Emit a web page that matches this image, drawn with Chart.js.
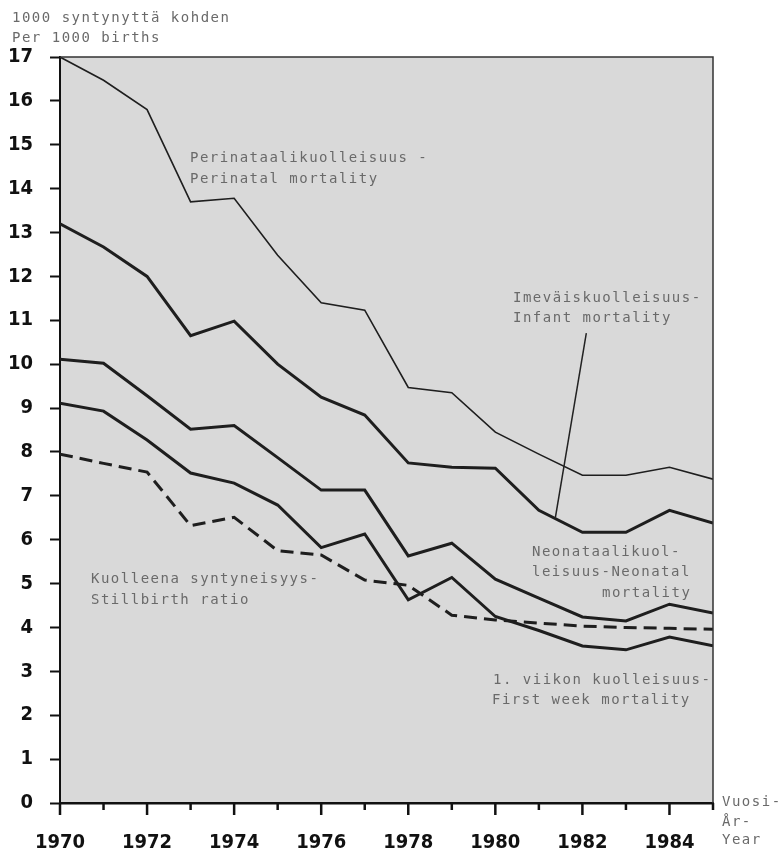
<!DOCTYPE html>
<html><head><meta charset="utf-8">
<script src="https://cdn.jsdelivr.net/npm/chart.js@4"></script>
<style>html,body{margin:0;padding:0;background:#fff;} #wrap{width:783px;height:850px;position:relative}</style>
</head><body><div id="wrap"><canvas id="c" width="783" height="850" style="width:783px;height:850px"></canvas></div>
<script>
const years = [1970,1971,1972,1973,1974,1975,1976,1977,1978,1979,1980,1981,1982,1983,1984,1985];
const perinatal = [17.0,16.47,15.8,13.7,13.78,12.48,11.4,11.23,9.47,9.35,8.45,7.95,7.47,7.47,7.65,7.38];
const infant = [13.2,12.67,12.0,10.65,10.98,10.0,9.25,8.84,7.75,7.65,7.63,6.67,6.17,6.17,6.67,6.38];
const neonatal = [10.11,10.02,9.28,8.52,8.6,7.87,7.13,7.13,5.63,5.92,5.1,4.67,4.24,4.15,4.53,4.33];
const firstWeek = [9.11,8.93,8.27,7.52,7.29,6.79,5.82,6.13,4.63,5.14,4.25,3.93,3.58,3.49,3.78,3.58];
const stillbirth = [7.95,7.74,7.54,6.32,6.51,5.75,5.65,5.08,4.96,4.28,4.17,4.1,4.03,4.0,3.98,3.96];
const xTickLabels = [1970,1972,1974,1976,1978,1980,1982,1984];
const yAxisTitle = ['1000 syntynyttä kohden','Per 1000 births'];
const xAxisTitle = ['Vuosi-','År-','Year'];

const pts = arr => arr.map((v,i)=>({x:years[i], y:v}));
const tickFont = {family:"'Liberation Sans Narrow','DejaVu Sans Condensed','Arial Narrow',sans-serif", size:20, weight:'bold'};
const monoFont = "14px 'DejaVu Sans Mono', monospace";

const bgPlugin = {
  id:'bg',
  beforeDraw(chart){
    const {ctx, chartArea:a} = chart;
    ctx.save();
    ctx.fillStyle = '#d9d9d9';
    ctx.fillRect(a.left, a.top, a.right-a.left, a.bottom-a.top);
    ctx.restore();
  }
};

function txt(ctx, s, x, y){ ctx.fillText(s, x, y); }

const annoPlugin = {
  id:'anno',
  afterDraw(chart){
    const {ctx, chartArea:a, scales:{x, y}} = chart;
    ctx.save();
    ctx.strokeStyle = '#333'; ctx.lineWidth = 1.5;
    ctx.beginPath(); ctx.moveTo(a.left, a.top); ctx.lineTo(a.right, a.top); ctx.lineTo(a.right, a.bottom); ctx.stroke();
    ctx.strokeStyle = '#111'; ctx.lineWidth = 2.5;
    years.forEach(yr=>{
      const px = x.getPixelForValue(yr);
      const len = (yr % 2 === 0) ? 12 : 7;
      ctx.beginPath(); ctx.moveTo(px, a.bottom); ctx.lineTo(px, a.bottom+len); ctx.stroke();
    });
    ctx.strokeStyle = '#222'; ctx.lineWidth = 1.5;
    ctx.beginPath();
    ctx.moveTo(x.getPixelForValue(1982.09), y.getPixelForValue(10.71));
    ctx.lineTo(x.getPixelForValue(1981.38), y.getPixelForValue(6.51));
    ctx.stroke();
    ctx.font = monoFont;
    ctx.letterSpacing = '1.5px';
    ctx.fillStyle = '#6a6a6a';
    ctx.textBaseline = 'middle';
    ctx.textAlign = 'left';
    txt(ctx, yAxisTitle[0], 12, 18);
    txt(ctx, yAxisTitle[1], 12, 38);
    txt(ctx, 'Perinataalikuolleisuus -', 190, 158);
    txt(ctx, 'Perinatal mortality', 190, 179);
    txt(ctx, 'Imeväiskuolleisuus-', 513, 298);
    txt(ctx, 'Infant mortality', 513, 318);
    txt(ctx, 'Neonataalikuol-', 532, 552);
    txt(ctx, 'leisuus-Neonatal', 532, 572);
    txt(ctx, 'mortality', 602, 593);
    txt(ctx, 'Kuolleena syntyneisyys-', 91, 579);
    txt(ctx, 'Stillbirth ratio', 91, 600);
    txt(ctx, '1. viikon kuolleisuus-', 493, 680);
    txt(ctx, 'First week mortality', 492, 700);
    txt(ctx, xAxisTitle[0], 722, 802);
    txt(ctx, xAxisTitle[1], 722, 822);
    txt(ctx, xAxisTitle[2], 722, 840);
    ctx.restore();
  }
};

const thick = {borderColor:'#1e1e1e', borderWidth:3, pointRadius:0, tension:0, fill:false};
new Chart(document.getElementById('c'), {
  type:'line',
  data:{
    datasets:[
      {label:'Perinatal mortality', data:pts(perinatal), borderColor:'#1e1e1e', borderWidth:1.6, pointRadius:0, tension:0, fill:false},
      {label:'Infant mortality', data:pts(infant), ...thick},
      {label:'Neonatal mortality', data:pts(neonatal), ...thick},
      {label:'First week mortality', data:pts(firstWeek), ...thick},
      {label:'Stillbirth ratio', data:pts(stillbirth), ...thick, borderDash:[13,7]}
    ]
  },
  options:{
    responsive:false, maintainAspectRatio:false, animation:false, devicePixelRatio:1,
    layout:{padding:{top:57, right:70, left:0, bottom:0}},
    plugins:{legend:{display:false}, tooltip:{enabled:false}},
    scales:{
      x:{
        type:'linear', min:1970, max:1985,
        afterFit(s){ s.height = 47; },
        grid:{display:true, drawOnChartArea:false, drawTicks:false},
        border:{display:true, color:'#111', width:2.5},
        ticks:{stepSize:1, autoSkip:false, maxRotation:0, padding:28, color:'#111', font:tickFont,
          callback:(v)=> xTickLabels.includes(v) ? String(v) : ''}
      },
      y:{
        min:0, max:17,
        afterFit(s){ s.width = 60; },
        grid:{display:true, drawOnChartArea:false, drawTicks:true, tickLength:10, tickWidth:2, tickColor:'#111'},
        border:{display:true, color:'#111', width:2},
        ticks:{stepSize:1, autoSkip:false, padding:17, color:'#111', font:tickFont}
      }
    }
  },
  plugins:[bgPlugin, annoPlugin]
});
</script></body></html>
